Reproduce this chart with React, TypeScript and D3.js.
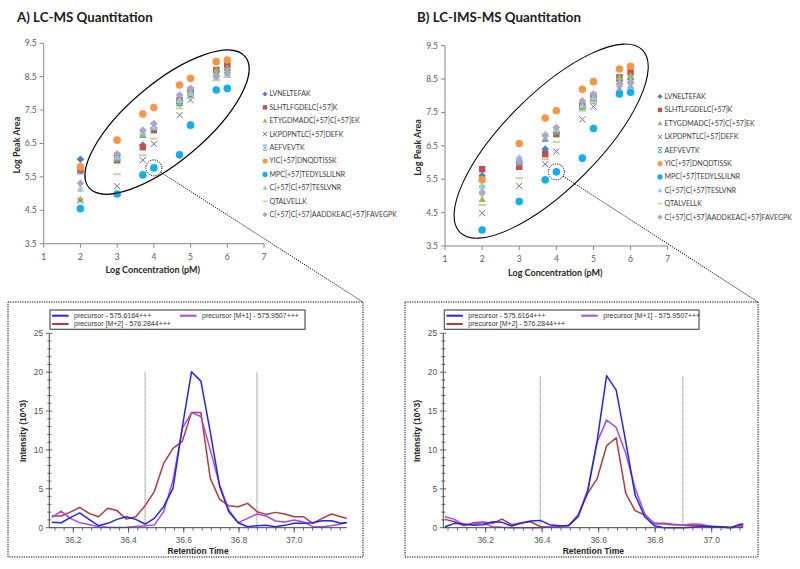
import React from "react";
import * as d3 from "d3";

// ---------- Scatter data ----------
const concentrations = [2, 3, 3.7, 4, 4.7, 5, 5.7, 6];
const peptideNames = [
  "LVNELTEFAK",
  "SLHTLFGDELC[+57]K",
  "ETYGDMADC[+57]C[+57]EK",
  "LKPDPNTLC[+57]DEFK",
  "AEFVEVTK",
  "YIC[+57]DNQDTISSK",
  "MPC[+57]TEDYLSLILNR",
  "C[+57]C[+57]TESLVNR",
  "QTALVELLK",
  "C[+57]C[+57]AADDKEAC[+57]FAVEGPK",
];
const markerShapes = ["diamond", "square", "triangle", "x", "star", "circle", "circle", "triangle", "dash", "diamond"];
const markerColors = ["#4F81BD", "#C0504D", "#9BBB59", "#8064A2", "#4BACC6", "#F79646", "#14ADEF", "#93CDDD", "#C3D69B", "#B3A2C7"];

const lcmsPeakArea = [
  [6.03, 6.15, 6.45, 6.95, 7.7, 7.95, 8.65, 8.7],
  [5.7, 6.0, 6.39, 6.9, 7.8, 8.1, 8.7, 8.85],
  [4.83, 6.05, 6.75, 7.0, 7.7, 8.05, 8.7, 8.75],
  [4.78, 5.22, 6.0, 6.49, 7.35, 7.8, 8.45, 8.55],
  [5.7, 6.1, 6.8, 7.0, 7.75, 8.0, 8.5, 8.6],
  [5.8, 6.6, 7.38, 7.58, 8.25, 8.45, 8.95, 9.0],
  [4.55, 4.99, 5.56, 5.77, 6.16, 7.05, 8.1, 8.15],
  [5.14, 6.1, 6.85, 7.0, 7.8, 8.0, 8.55, 8.65],
  [4.73, 5.58, 6.15, 6.65, 7.55, 7.85, 8.4, 8.5],
  [5.31, 6.19, 6.9, 7.1, 7.95, 8.15, 8.5, 8.6],
];
const imsPeakArea = [
  [5.6, 6.0, 6.4, 6.9, 7.65, 7.85, 8.45, 8.5],
  [5.8, 5.87, 6.25, 6.85, 7.7, 8.0, 8.55, 8.7],
  [4.9, 6.0, 6.7, 6.95, 7.65, 7.85, 8.55, 8.6],
  [4.48, 5.3, 5.95, 6.33, 7.29, 7.67, 8.2, 8.3],
  [5.2, 6.05, 6.75, 6.95, 7.7, 7.9, 8.25, 8.35],
  [5.48, 6.57, 7.33, 7.55, 8.19, 8.42, 8.8, 8.88],
  [3.98, 4.83, 5.48, 5.72, 6.13, 7.02, 8.05, 8.1],
  [5.3, 6.15, 6.85, 7.0, 7.72, 7.95, 8.4, 8.45],
  [4.73, 5.53, 6.1, 6.62, 7.55, 7.8, 8.35, 8.4],
  [5.08, 6.05, 6.8, 7.05, 7.85, 8.05, 8.35, 8.38],
];
const xTicks = [1, 2, 3, 4, 5, 6, 7];
const yTicks = [3.5, 4.5, 5.5, 6.5, 7.5, 8.5, 9.5];

// ---------- Chromatogram data ----------
const lcmsTimes = [36.122, 36.156, 36.189, 36.223, 36.257, 36.291, 36.325, 36.358, 36.392, 36.426, 36.46, 36.493, 36.527, 36.561, 36.595, 36.628, 36.662, 36.696, 36.73, 36.763, 36.797, 36.831, 36.865, 36.898, 36.932, 36.966, 37.0, 37.034, 37.067, 37.101, 37.135, 37.169, 37.202];
const lcmsPrecursor = [0.69, 0.64, 1.3, 1.9, 1.07, 0.26, 0.56, 1.07, 1.41, 1.07, 0.47, 1.2, 2.7, 5.06, 13.0, 20.05, 18.85, 12.3, 5.27, 2.06, 0.64, 0.13, 0.26, 0.3, 0.13, 0.3, 0.56, 0.56, 0.64, 0.9, 0.9, 0.56, 0.73];
const lcmsM1 = [1.33, 2.14, 1.2, 0.65, 0.4, 0.13, 0.05, 0.03, 0.05, 0.15, 0.26, 0.34, 2.06, 6.1, 12.8, 14.8, 14.3, 10.0, 5.5, 2.27, 0.64, 1.2, 1.76, 1.5, 0.86, 0.73, 1.0, 0.73, 0.13, 0.13, 0.26, 0.47, 0.77];
const lcmsM2 = [1.5, 1.5, 2.0, 2.6, 1.84, 1.41, 2.5, 2.2, 1.1, 1.41, 2.83, 4.63, 8.27, 10.2, 11.14, 14.8, 14.8, 6.34, 3.64, 2.83, 2.7, 3.13, 2.06, 1.71, 1.97, 1.76, 1.41, 1.41, 0.56, 1.2, 1.76, 1.41, 1.07];
const lcmsBoundaries = [36.46, 36.865];

const imsTimes = [36.056, 36.09, 36.123, 36.157, 36.191, 36.224, 36.258, 36.292, 36.325, 36.359, 36.393, 36.426, 36.46, 36.494, 36.527, 36.561, 36.595, 36.628, 36.662, 36.696, 36.729, 36.763, 36.797, 36.83, 36.864, 36.898, 36.931, 36.965, 36.999, 37.032, 37.066, 37.1, 37.133];
const imsPrecursor = [0.13, 0.56, 0.47, 0.3, 0.39, 0.77, 0.69, 0.21, 0.56, 0.86, 0.94, 0.39, 0.26, 0.26, 1.41, 4.63, 11.27, 19.55, 17.7, 11.05, 4.2, 1.41, 0.26, 0, 0, 0, 0.05, 0.17, 0.2, 0.13, 0, 0.43, 0.56];
const imsM1 = [1.41, 1.07, 0.34, 0.47, 0.64, 0.13, 0.05, 0, 0, 0, 0, 0.13, 0.17, 0.3, 1.5, 4.84, 11.05, 13.84, 12.9, 9.55, 5.06, 1.76, 0.47, 0.47, 0.34, 0.34, 0.47, 0.43, 0.13, 0.05, 0, 0.13, 0.2];
const imsM2 = [1.07, 0.77, 0.26, 0.64, 0.73, 0.56, 1.11, 0.39, 0.64, 0.77, 0.13, 0.13, 0.13, 0.3, 1.63, 4.41, 6.34, 10.54, 11.57, 4.41, 2.19, 1.63, 0.56, 0.56, 0.43, 0.34, 0.26, 0.3, 0.13, 0.13, 0.05, 0.3, 0.39];
const imsBoundaries = [36.393, 36.898];

const traceLabels = ["precursor - 575.6164+++", "precursor [M+1] - 575.9507+++", "precursor [M+2] - 576.2844+++"];
const traceColors = ["#2323F2", "#A24CEB", "#B5383A"];
const rtTicks = [36.2, 36.4, 36.6, 36.8, 37.0];
const intensityTicks = [0, 5, 10, 15, 20, 25];

const SANS = "Lato, 'Open Sans', sans-serif";
const ARIAL = "'Liberation Sans', Arial, sans-serif";

function Marker({ shape, x, y, s, color }: any) {
  switch (shape) {
    case "diamond":
      return <path d={`M${x},${y - s}L${x + s},${y}L${x},${y + s}L${x - s},${y}Z`} fill={color} />;
    case "square":
      return <rect x={x - s * 0.85} y={y - s * 0.85} width={s * 1.7} height={s * 1.7} fill={color} />;
    case "triangle":
      return <path d={`M${x},${y - s}L${x + s * 0.95},${y + s * 0.75}L${x - s * 0.95},${y + s * 0.75}Z`} fill={color} />;
    case "x": {
      const a = s * 0.8;
      return <path d={`M${x - a},${y - a}L${x + a},${y + a}M${x - a},${y + a}L${x + a},${y - a}`} stroke={color} strokeWidth={1} fill="none" />;
    }
    case "star": {
      const a = s * 0.75;
      return (
        <path
          d={`M${x - a},${y - a}L${x + a},${y + a}M${x - a},${y + a}L${x + a},${y - a}M${x - a},${y - s}L${x + a},${y - s}M${x - a},${y + s}L${x + a},${y + s}`}
          stroke={color}
          strokeWidth={1}
          fill="none"
        />
      );
    }
    case "circle":
      return <circle cx={x} cy={y} r={s} fill={color} />;
    case "dash":
      return <rect x={x - s} y={y - s * 0.25} width={s * 2} height={s * 0.5} fill={color} />;
    default:
      return null;
  }
}

function ScatterPanel({ title, titleX, titleY, xRange, yRange, values, legendX, legendY, ellipse, box }: any) {
  const x = d3.scaleLinear().domain([1, 7]).range(xRange);
  const y = d3.scaleLinear().domain([3.5, 9.5]).range(yRange);
  const axisColor = "#868686";
  const ex = x(ellipse.cx);
  const ey = y(ellipse.cy);
  const cx = x(concentrations[3]);
  const cy = y(values[6][3]);
  const r = 8;
  const dx = box[0] - cx;
  const dy = box[1] - cy;
  const dl = Math.sqrt(dx * dx + dy * dy);
  return (
    <g>
      <text x={titleX} y={titleY} fontFamily={SANS} fontWeight={700} fontSize={13.3} fill="#1a1a1a">
        {title}
      </text>
      {/* axes */}
      <line x1={xRange[0]} x2={xRange[1]} y1={yRange[0]} y2={yRange[0]} stroke={axisColor} />
      <line x1={xRange[0]} x2={xRange[0]} y1={yRange[0]} y2={yRange[1]} stroke={axisColor} />
      {yTicks.map((t) => (
        <g key={"yt" + t}>
          <line x1={xRange[0] - 4} x2={xRange[0]} y1={y(t)} y2={y(t)} stroke={axisColor} />
          <text x={xRange[0] - 7} y={y(t)} dy="0.35em" textAnchor="end" fontFamily={SANS} fontSize={8.5} fill="#595959">
            {t.toFixed(1)}
          </text>
        </g>
      ))}
      {xTicks.map((t) => (
        <g key={"xt" + t}>
          <line x1={x(t)} x2={x(t)} y1={yRange[0]} y2={yRange[0] + 4} stroke={axisColor} />
          <text x={x(t)} y={yRange[0] + 16} textAnchor="middle" fontFamily={SANS} fontSize={8.5} fill="#595959">
            {t}
          </text>
        </g>
      ))}
      <text
        x={(xRange[0] + xRange[1]) / 2 - 1}
        y={yRange[0] + 29.5}
        textAnchor="middle"
        fontFamily={SANS}
        fontWeight={700}
        fontSize={9}
        fill="#262626"
      >
        Log Concentration (pM)
      </text>
      <text
        transform={`translate(${xRange[0] - 24},${y(6.45)}) rotate(-90)`}
        textAnchor="middle"
        fontFamily={SANS}
        fontWeight={700}
        fontSize={9}
        fill="#262626"
      >
        Log Peak Area
      </text>
      {/* points */}
      {values.map((row: number[], si: number) =>
        row.map((v, i) => (
          <Marker key={si + "-" + i} shape={markerShapes[si]} x={x(concentrations[i])} y={y(v)} s={3.8} color={markerColors[si]} />
        ))
      )}
      {/* legend */}
      {peptideNames.map((name, i) => (
        <g key={"lg" + i}>
          <Marker shape={markerShapes[i]} x={legendX} y={legendY + i * 13.4} s={2.6} color={markerColors[i]} />
          <text x={legendX + 4.5} y={legendY + i * 13.4} dy="0.35em" fontFamily={SANS} fontSize={7} fill="#404040">
            {name}
          </text>
        </g>
      ))}
      {/* annotations */}
      <ellipse
        cx={0}
        cy={0}
        rx={ellipse.rx}
        ry={ellipse.ry}
        transform={`translate(${ex},${ey}) rotate(${ellipse.rot})`}
        fill="none"
        stroke="#000"
        strokeWidth={1.1}
      />
      <circle cx={cx} cy={cy} r={r} fill="none" stroke="#000" strokeWidth={1} strokeDasharray="1.2,1.2" />
      <line
        x1={cx + (dx / dl) * r}
        y1={cy + (dy / dl) * r}
        x2={box[0]}
        y2={box[1]}
        stroke="#000"
        strokeWidth={1}
        strokeDasharray="1.2,1.2"
      />
    </g>
  );
}

function ChromPanel({ box, xDomain, xRange, times, series, boundaries, legendBox, m1Offset, clipId }: any) {
  const x = d3.scaleLinear().domain(xDomain).range(xRange);
  const y = d3.scaleLinear().domain([0, 25]).range([527.7, 333.3]);
  const axisColor = "#444";
  const line = d3
    .line<number>()
    .x((_, i) => x(times[i]))
    .y((d) => y(d));
  const peak = d3.max(series[0] as number[]) as number;
  const minorX: number[] = [];
  for (let t = rtTicks[0]; t <= xDomain[1] + 1e-9; t += 0.2 / 6) minorX.push(t);
  for (let t = rtTicks[0] - 0.2 / 6; t >= xDomain[0] - 1e-9; t -= 0.2 / 6) minorX.push(t);
  const minorY = d3.range(0, 26, 1);
  const midX = (xRange[0] + xRange[1]) / 2;
  return (
    <g>
      <rect x={box[0]} y={box[1]} width={box[2] - box[0]} height={box[3] - box[1]} fill="none" stroke="#000" strokeWidth={1} strokeDasharray="1.2,1.2" />
      <defs>
        <clipPath id={clipId}>
          <rect x={xRange[0]} y={300} width={xRange[1] - xRange[0]} height={240} />
        </clipPath>
      </defs>
      {/* boundaries */}
      {boundaries.map((b: number) => (
        <line key={"b" + b} x1={x(b)} x2={x(b)} y1={y(0)} y2={y(peak)} stroke="#333" strokeWidth={0.8} strokeDasharray="1,1" />
      ))}
      {/* traces: M+2, M+1, precursor */}
      <g clipPath={`url(#${clipId})`}>
        {[2, 1, 0].map((si) => (
          <path key={"tr" + si} d={line(series[si]) as string} fill="none" stroke={traceColors[si]} strokeWidth={1.5} strokeLinejoin="round" />
        ))}
      </g>
      {/* axes */}
      <line x1={xRange[0]} x2={xRange[1]} y1={y(0)} y2={y(0)} stroke={axisColor} strokeWidth={1} />
      <line x1={xRange[0]} x2={xRange[0]} y1={y(0)} y2={y(25)} stroke={axisColor} strokeWidth={1} />
      {minorY.map((t) => (
        <line key={"my" + t} x1={xRange[0] - (t % 5 === 0 ? 3.5 : 2)} x2={xRange[0] + (t % 5 === 0 ? 3 : 2)} y1={y(t)} y2={y(t)} stroke={axisColor} strokeWidth={0.8} />
      ))}
      {intensityTicks.map((t) => (
        <text key={"yl" + t} x={xRange[0] - 6} y={y(t)} dy="0.35em" textAnchor="end" fontFamily={ARIAL} fontSize={8.5} fill="#555">
          {t}
        </text>
      ))}
      {minorX.map((t, i) => (
        <line key={"mx" + i} x1={x(t)} x2={x(t)} y1={y(0)} y2={y(0) + 3} stroke={axisColor} strokeWidth={0.8} />
      ))}
      {rtTicks.map((t) => (
        <g key={"xl" + t}>
          <line x1={x(t)} x2={x(t)} y1={y(0)} y2={y(0) + 5} stroke={axisColor} strokeWidth={0.8} />
          <text x={x(t)} y={y(0) + 15} textAnchor="middle" fontFamily={ARIAL} fontSize={8.5} fill="#555">
            {t.toFixed(1)}
          </text>
        </g>
      ))}
      <text x={midX} y={554} textAnchor="middle" fontFamily={ARIAL} fontWeight={700} fontSize={8.5} fill="#222">
        Retention Time
      </text>
      <text transform={`translate(${xRange[0] - 23},${431}) rotate(-90)`} textAnchor="middle" fontFamily={ARIAL} fontWeight={700} fontSize={8.5} fill="#222">
        Intensity (10^3)
      </text>
      {/* legend */}
      <rect x={legendBox[0]} y={legendBox[1]} width={legendBox[2]} height={legendBox[3]} fill="#fff" stroke="#555" strokeWidth={1.2} />
      {[0, 1, 2].map((i) => {
        const lx = legendBox[0] + (i === 1 ? m1Offset : 2);
        const ly = legendBox[1] + (i === 2 ? 14 : 5.7);
        return (
          <g key={"leg" + i}>
            <line x1={lx} x2={lx + 16.5} y1={ly} y2={ly} stroke={traceColors[i]} strokeWidth={2} />
            <text x={lx + 22} y={ly} dy="0.35em" fontFamily={ARIAL} fontSize={7} fill="#333">
              {traceLabels[i]}
            </text>
          </g>
        );
      })}
    </g>
  );
}

export default function App() {
  return (
    <svg width={800} height={569} style={{ position: "absolute", left: 0, top: 0, background: "#fff" }}>
      <rect x={0} y={0} width={800} height={569} fill="#fff" />
      <ScatterPanel
        title="A) LC-MS Quantitation"
        titleX={17}
        titleY={21.5}
        xRange={[43.7, 264]}
        yRange={[243.7, 43.3]}
        values={lcmsPeakArea}
        legendX={265}
        legendY={94}
        ellipse={{ cx: 4.36, cy: 7.14, rx: 102, ry: 39, rot: -40 }}
        box={[363, 302]}
      />
      <ScatterPanel
        title="B) LC-IMS-MS Quantitation"
        titleX={417}
        titleY={21.5}
        xRange={[445, 667.7]}
        yRange={[246, 45.6]}
        values={imsPeakArea}
        legendX={660}
        legendY={96.5}
        ellipse={{ cx: 3.86, cy: 6.64, rx: 129, ry: 47, rot: -45 }}
        box={[758, 302]}
      />
      <ChromPanel
        box={[8, 302, 363, 557]}
        xDomain={[36.113, 37.19]}
        xRange={[49.3, 346.7]}
        times={lcmsTimes}
        series={[lcmsPrecursor, lcmsM1, lcmsM2]}
        boundaries={lcmsBoundaries}
        legendBox={[50, 310, 255, 19.3]}
        m1Offset={130}
        clipId="clipA"
      />
      <ChromPanel
        box={[405, 302, 758, 557]}
        xDomain={[36.05, 37.112]}
        xRange={[443.3, 743.3]}
        times={imsTimes}
        series={[imsPrecursor, imsM1, imsM2]}
        boundaries={imsBoundaries}
        legendBox={[444.3, 310, 254.7, 19.3]}
        m1Offset={137}
        clipId="clipB"
      />
    </svg>
  );
}
